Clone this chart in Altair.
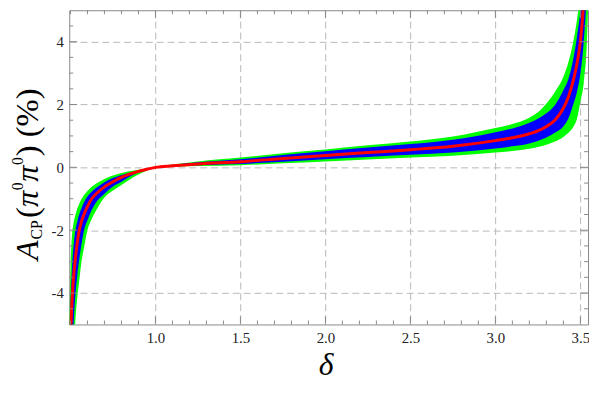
import altair as alt
import pandas as pd

# ---- data ----
delta = [0.493, 0.497, 0.50, 0.505, 0.51, 0.515, 0.52, 0.53, 0.54, 0.55, 0.565, 0.58,
         0.60, 0.625, 0.65, 0.70, 0.75, 0.80, 0.875, 0.95, 1.0, 1.1, 1.25, 1.5, 1.75,
         2.0, 2.25, 2.5, 2.75, 3.0, 3.1, 3.2, 3.25, 3.3, 3.35, 3.4, 3.43, 3.46, 3.48,
         3.5, 3.52, 3.54, 3.545]

green_hi = [-5.0, -3.9, -3.2, -2.5, -2.1, -1.88, -1.72, -1.5, -1.32, -1.18, -1.01, -0.88,
            -0.75, -0.62, -0.52, -0.37, -0.26, -0.18, -0.10, -0.04, 0.0, 0.09, 0.19, 0.31, 0.45,
            0.57, 0.70, 0.82, 0.98, 1.25, 1.38, 1.58, 1.75, 2.03, 2.4, 2.88, 3.35, 4.05, 4.7,
            5.6, 7.0, 9.5, 11.0]

blue_hi = [-6.5, -5.0, -4.4, -3.7, -3.1, -2.7, -2.4, -1.97, -1.73, -1.52, -1.3, -1.11,
           -0.93, -0.78, -0.66, -0.47, -0.34, -0.24, -0.14, -0.055, 0.0, 0.075, 0.16, 0.26, 0.39,
           0.51, 0.63, 0.74, 0.88, 1.12, 1.24, 1.42, 1.55, 1.72, 1.98, 2.45, 2.82, 3.5, 4.15,
           5.0, 6.5, 9.0, 10.0]

center = [-8.0, -6.5, -5.6, -4.75, -4.2, -3.75, -3.4, -2.85, -2.4, -2.06, -1.72, -1.49,
          -1.25, -1.0, -0.85, -0.62, -0.46, -0.32, -0.17, -0.06, 0.0, 0.05, 0.11, 0.18, 0.28,
          0.38, 0.47, 0.56, 0.67, 0.85, 0.94, 1.07, 1.16, 1.3, 1.5, 1.88, 2.25, 2.8, 3.3,
          4.0, 5.3, 7.5, 8.5]

blue_lo = [-12.0, -10.0, -9.0, -7.5, -6.2, -5.5, -4.85, -4.0, -3.45, -3.0, -2.45, -2.0,
           -1.68, -1.36, -1.12, -0.84, -0.61, -0.46, -0.22, -0.08, 0.0, 0.03, 0.07, 0.11, 0.18,
           0.26, 0.33, 0.40, 0.47, 0.60, 0.67, 0.76, 0.84, 0.95, 1.1, 1.3, 1.56, 2.03, 2.4,
           2.97, 4.0, 6.0, 7.0]

green_lo = [-15.0, -12.5, -11.0, -9.0, -7.5, -6.5, -5.8, -4.8, -4.15, -3.7, -3.0, -2.55,
            -2.0, -1.64, -1.38, -0.96, -0.74, -0.56, -0.3, -0.1, 0.0, 0.02, 0.045, 0.07, 0.13,
            0.19, 0.25, 0.31, 0.37, 0.47, 0.52, 0.59, 0.65, 0.72, 0.82, 0.97, 1.1, 1.3, 1.55,
            2.08, 2.7, 4.2, 5.0]

x_major = [1.0, 1.5, 2.0, 2.5, 3.0, 3.5]
x_minor = [0.5, 0.6, 0.7, 0.8, 0.9, 1.1, 1.2, 1.3, 1.4, 1.6, 1.7, 1.8, 1.9,
           2.1, 2.2, 2.3, 2.4, 2.6, 2.7, 2.8, 2.9, 3.1, 3.2, 3.3, 3.4]
y_major = [-4, -2, 0, 2, 4]
y_minor = [-4.5, -3.5, -3, -2.5, -1.5, -1, -0.5, 0.5, 1, 1.5, 2.5, 3, 3.5, 4.5]

x_domain = [0.493, 3.545]
y_domain = [-5, 5]

# ---- chart ----
W, H = 525, 318
FONT = "Liberation Serif"
FRAME = "#888888"
GRID = "#b8b8b8"
LABEL = "#222222"

xs = alt.Scale(domain=x_domain, nice=False, zero=False)
ys = alt.Scale(domain=y_domain, nice=False, zero=False)

df = pd.DataFrame({"delta": delta, "g_lo": green_lo, "g_hi": green_hi,
                   "b_lo": blue_lo, "b_hi": blue_hi, "c": center})

x_axis = alt.Axis(values=x_major, format=".1f", title=None, ticks=False, domain=False,
                  grid=True, gridColor=GRID, gridDash=[7, 4], gridWidth=1,
                  labelFont=FONT, labelFontSize=15, labelColor=LABEL,
                  labelPadding=6, labelFlush=False)
y_axis = alt.Axis(values=y_major, labelExpr="'' + datum.value", title=None, ticks=False,
                  domain=False, grid=True, gridColor=GRID, gridDash=[7, 4], gridWidth=1,
                  labelFont=FONT, labelFontSize=15, labelColor=LABEL, labelPadding=6)

base = alt.Chart(df)
green = base.mark_area(color="#00ff00", clip=True, interpolate="monotone").encode(
    x=alt.X("delta:Q", scale=xs, axis=x_axis),
    y=alt.Y("g_lo:Q", scale=ys, axis=y_axis),
    y2="g_hi:Q",
)
blue = base.mark_area(color="#0000ff", clip=True, interpolate="monotone").encode(
    x=alt.X("delta:Q", scale=xs, axis=x_axis),
    y=alt.Y("b_lo:Q", scale=ys, axis=y_axis),
    y2="b_hi:Q",
)
red = base.mark_line(color="#ff0000", strokeWidth=3, clip=True, interpolate="monotone").encode(
    x=alt.X("delta:Q", scale=xs, axis=x_axis),
    y=alt.Y("c:Q", scale=ys, axis=y_axis),
)

layers = [green, blue, red]

# frame ticks (inward), Mathematica style
for vals, L in ((x_major, 8), (x_minor, 4)):
    d = alt.Chart(pd.DataFrame({"v": vals}))
    layers.append(d.mark_rule(color=FRAME, strokeWidth=1).encode(
        x=alt.X("v:Q", scale=xs, axis=x_axis), y=alt.value(H), y2=alt.value(H - L)))
    layers.append(d.mark_rule(color=FRAME, strokeWidth=1).encode(
        x=alt.X("v:Q", scale=xs, axis=x_axis), y=alt.value(0), y2=alt.value(L)))
for vals, L in ((y_major, 8), (y_minor, 4)):
    d = alt.Chart(pd.DataFrame({"v": vals}))
    layers.append(d.mark_rule(color=FRAME, strokeWidth=1).encode(
        y=alt.Y("v:Q", scale=ys, axis=y_axis), x=alt.value(0), x2=alt.value(L)))
    layers.append(d.mark_rule(color=FRAME, strokeWidth=1).encode(
        y=alt.Y("v:Q", scale=ys, axis=y_axis), x=alt.value(W), x2=alt.value(W - L)))

# axis titles as text
one = pd.DataFrame({"k": [0]})
def label(txt, x, y, size, style="normal", angle=270, align="left"):
    return alt.Chart(one).mark_text(text=txt, font=FONT, fontSize=size, fontStyle=style,
                                    angle=angle, align=align, baseline="alphabetic",
                                    color="black").encode(x=alt.value(x), y=alt.value(y))

layers += [
    label("A", -32, 253, 33, "italic"),
    label("CP", -28, 232, 16),
    label("(", -32, 210.3, 33),
    label("π", -32, 199.2, 33, "italic"),
    label("0", -47, 182.2, 16),
    label("π", -32, 173.5, 33, "italic"),
    label("0", -47, 156.5, 16),
    label(") (%)", -32, 147.8, 33),
    label("δ", 260, 369, 32, "italic", angle=0, align="center"),
]

chart = alt.layer(*layers).properties(
    width=W, height=H,
    padding={"left": 62, "top": 0, "right": 1, "bottom": 60},
    autosize=alt.AutoSizeParams(type="none"),
).configure_view(stroke=FRAME, strokeWidth=1)

chart.save("out.html", embed_options={"renderer": "svg", "actions": False})
